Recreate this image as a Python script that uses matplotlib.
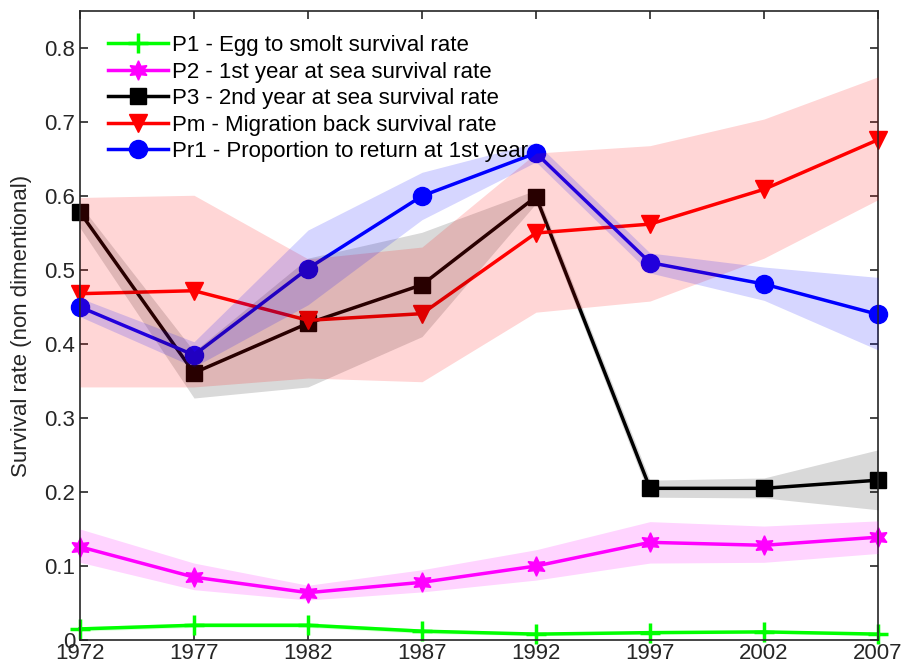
"""Survival rates by cohort year with uncertainty bands."""
import matplotlib
matplotlib.use("Agg")
import matplotlib.pyplot as plt

years = [1972, 1977, 1982, 1987, 1992, 1997, 2002, 2007]

p1 = [0.015, 0.020, 0.020, 0.012, 0.008, 0.010, 0.011, 0.008]
p1_lo = [0.012, 0.017, 0.017, 0.009, 0.006, 0.008, 0.009, 0.006]
p1_hi = [0.018, 0.023, 0.023, 0.015, 0.010, 0.012, 0.013, 0.010]

p2 = [0.126, 0.085, 0.064, 0.078, 0.100, 0.132, 0.128, 0.139]
p2_lo = [0.105, 0.068, 0.054, 0.065, 0.081, 0.104, 0.105, 0.117]
p2_hi = [0.150, 0.104, 0.074, 0.095, 0.122, 0.160, 0.154, 0.161]

p3 = [0.578, 0.361, 0.428, 0.480, 0.599, 0.205, 0.205, 0.216]
p3_lo = [0.557, 0.327, 0.342, 0.410, 0.590, 0.193, 0.192, 0.176]
p3_hi = [0.588, 0.390, 0.516, 0.551, 0.608, 0.216, 0.219, 0.257]

pm = [0.468, 0.472, 0.432, 0.441, 0.550, 0.562, 0.609, 0.676]
pm_lo = [0.342, 0.342, 0.354, 0.349, 0.443, 0.458, 0.516, 0.595]
pm_hi = [0.598, 0.601, 0.515, 0.531, 0.658, 0.668, 0.704, 0.761]

pr1 = [0.450, 0.385, 0.502, 0.600, 0.658, 0.510, 0.481, 0.440]
pr1_lo = [0.437, 0.369, 0.453, 0.568, 0.646, 0.496, 0.459, 0.392]
pr1_hi = [0.462, 0.403, 0.554, 0.632, 0.672, 0.523, 0.504, 0.490]

labels = [
    "P1 - Egg to smolt survival rate",
    "P2 - 1st year at sea survival rate",
    "P3 - 2nd year at sea survival rate",
    "Pm - Migration back survival rate",
    "Pr1 - Proportion to return at 1st year",
]

plt.rcParams["font.family"] = ["Liberation Sans", "DejaVu Sans"]

fig = plt.figure(figsize=(9.03, 6.69), dpi=100)
ax = fig.add_axes([0.0886, 0.0433, 0.8837, 0.9403])

series = [
    (p1, p1_lo, p1_hi, "#00ff00", "+", 15, 0.15),
    (p2, p2_lo, p2_hi, "#ff00ff", (6, 1, 0), 14, 0.17),
    (p3, p3_lo, p3_hi, "black", "s", 11, 0.15),
    (pm, pm_lo, pm_hi, "red", "v", 13, 0.16),
    (pr1, pr1_lo, pr1_hi, "blue", "o", 13, 0.16),
]

for (vals, lo, hi, color, marker, ms, alpha), label in zip(series, labels):
    mew = 2.5 if marker == "+" else 1
    ax.plot(years, vals, color=color, lw=2.5, marker=marker, markersize=ms,
            markeredgewidth=mew, label=label, zorder=2, clip_on=False)

for vals, lo, hi, color, marker, ms, alpha in series:
    ax.fill_between(years, lo, hi, color=color, alpha=alpha, lw=0, zorder=3)

ax.set_xlim(1972, 2007)
ax.set_ylim(0, 0.85)
ax.set_xticks(years)
ax.set_yticks([0, 0.1, 0.2, 0.3, 0.4, 0.5, 0.6, 0.7, 0.8])
ax.set_yticklabels(["0", "0.1", "0.2", "0.3", "0.4", "0.5", "0.6", "0.7", "0.8"])
ax.tick_params(direction="in", top=True, right=True, labelsize=16,
               length=6, width=1.2, colors="#262626", labelcolor="#262626")
ax.tick_params(axis="x", pad=2)
for sp in ax.spines.values():
    sp.set_linewidth(1.2)
    sp.set_color("#262626")
ax.set_ylabel("Survival rate (non dimentional)", fontsize=16, color="#262626",
              labelpad=9)

leg = ax.legend(loc="upper left", frameon=False, fontsize=16,
                handlelength=2.66, handletextpad=0.18, labelspacing=0.25,
                borderaxespad=0.0, bbox_to_anchor=(0.0245, 0.976))
leg.set_zorder(5)

fig.savefig("out.png", dpi=100)
